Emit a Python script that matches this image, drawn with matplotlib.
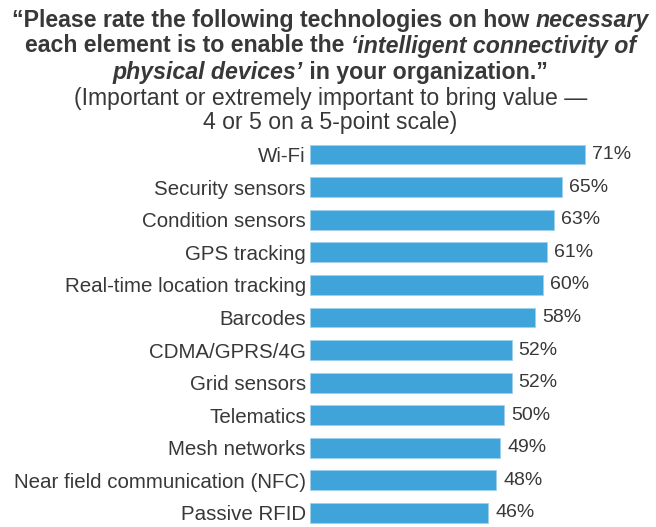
import matplotlib
matplotlib.use("Agg")
import matplotlib.pyplot as plt

plt.rcParams["font.family"] = ["Liberation Sans", "DejaVu Sans"]

categories = ["Wi-Fi", "Security sensors", "Condition sensors", "GPS tracking",
              "Real-time location tracking", "Barcodes", "CDMA/GPRS/4G",
              "Grid sensors", "Telematics", "Mesh networks",
              "Near field communication (NFC)", "Passive RFID"]
values = [71, 65, 63, 61, 60, 58, 52, 52, 50, 49, 48, 46]

title_lines = [
    [("\u201cPlease rate the following technologies on how ", "normal"), ("necessary", "italic")],
    [("each element is to enable the ", "normal"), ("\u2018intelligent connectivity of", "italic")],
    [("physical devices\u2019", "italic"), (" in your organization.\u201d", "normal")],
]
subtitle_lines = ["(Important or extremely important to bring value \u2014",
                  "4 or 5 on a 5-point scale)"]

bar_color = "#3FA4DA"
text_color = "#383838"

W, H = 656, 527
fig = plt.figure(figsize=(W / 100, H / 100), dpi=100, facecolor="white")
left = 310
ax = fig.add_axes([left / W, 0, 1 - left / W, 389 / H])

n = len(categories)
ypos = list(range(n - 1, -1, -1))
ax.barh(ypos, values, height=0.61, color=bar_color, edgecolor="#9fd0ec", linewidth=0.6)
ax.set_xlim(0, (W - left) / 3.88)
ax.set_ylim(-0.43, 11.506)
ax.set_yticks(ypos)
ax.set_yticklabels(categories, fontsize=14.8, color=text_color)
ax.tick_params(axis="y", length=0, pad=3)
ax.set_xticks([])
for s in ax.spines.values():
    s.set_visible(False)

for y, v in zip(ypos, values):
    ax.annotate(f"{v}%", (v, y), xytext=(5, 0), textcoords="offset points",
                va="center", ha="left", fontsize=14, color=text_color)

renderer = fig.canvas.get_renderer()


def make_line(parts, size, weight):
    return [fig.text(0, 0, s, fontsize=size, fontweight=weight, fontstyle=style,
                     color=text_color, va="baseline", ha="left")
            for s, style in parts]


def fit_size(parts, weight, target):
    # font size that makes the line about as wide as in the picture
    texts = make_line(parts, 10, weight)
    w = sum(t.get_window_extent(renderer).width for t in texts)
    for t in texts:
        t.remove()
    return 10 * target / w


def draw_line(parts, base, size, weight):
    texts = make_line(parts, size, weight)
    widths = [t.get_window_extent(renderer).width for t in texts]
    x = 330.5 - sum(widths) / 2
    for t, w in zip(texts, widths):
        t.set_position((x / W, 1 - base / H))
        x += w


tsize = fit_size(title_lines[0], "bold", 637)
ssize = fit_size([(subtitle_lines[0], "normal")], "normal", 516)
for parts, base in zip(title_lines, [26.5, 52.5, 79]):
    draw_line(parts, base, tsize, "bold")
for s, base in zip(subtitle_lines, [105, 129]):
    draw_line([(s, "normal")], base, ssize, "normal")

fig.savefig("out.png", dpi=100)
